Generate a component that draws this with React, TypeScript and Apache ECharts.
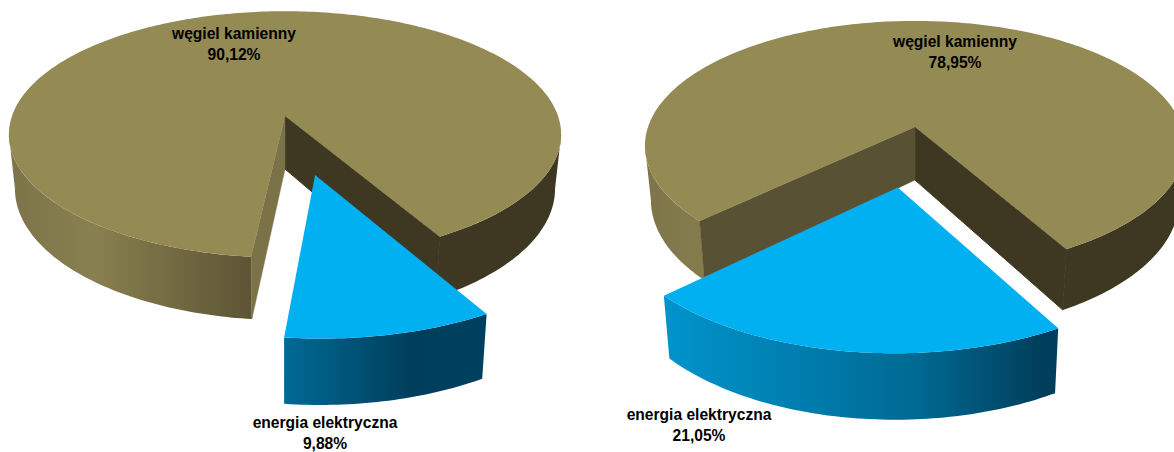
import React, { useEffect, useRef } from "react";
import * as echarts from "echarts";

const categories = ["węgiel kamienny", "energia elektryczna"];
const leftShares = [90.12, 9.88];
const rightShares = [78.95, 21.05];

const TOP = ["#948A54", "#00B0F0"];
const WALL_NEAR = "#3E3823";
const SIDE_COAL: [number, string][] = [[-276, "#7d734a"], [-190, "#88804f"], [-30, "#5c5334"], [125, "#3e3823"], [280, "#3e3823"]];
const SIDE_POWER: [number, string][] = [[-276, "#0098d2"], [-250, "#0094cc"], [0, "#006a94"], [125, "#003f5c"], [280, "#004060"]];

const START = -60.5;
const PERSPECTIVE = 0.15;
const DEPTH = [53, 52];
const EXPLODE = 0.466;
const EXPLODE_SHIFT = 0.008;
const POWER_RADIUS = 0.99;
const POWER_WIDEN = 1.005;

const layouts = [
  {
    shares: leftShares, cx: 285, cy: 116, rx: 273, ry: 120.5, wallFar: "#7b7248",
    labels: [{ x: 234, y: 43.5 }, { x: 325, y: 432.5 }],
  },
  {
    shares: rightShares, cx: 915, cy: 127, rx: 267, ry: 122, wallFar: "#595133",
    labels: [{ x: 955, y: 52 }, { x: 699, y: 424.5 }],
  },
];

function formatShare(v: number) {
  return v.toFixed(2).replace(".", ",") + "%";
}

function makeRender(L: (typeof layouts)[number]) {
  const gradient = (stops: [number, string][]) => {
    const a = stops[0][0];
    const b = stops[stops.length - 1][0];
    return new echarts.graphic.LinearGradient(
      L.cx + a, 0, L.cx + b, 0,
      stops.map(([p, color]) => ({ offset: (p - a) / (b - a), color })),
      true
    );
  };
  return (params: any, api: any) => {
    const idx = params.dataIndex;
    const value = api.value(0);
    const depth = DEPTH[idx];
    const project = (X: number, Y: number, Z = 0): number[] => {
      const s = 1 / (1 + PERSPECTIVE * Y);
      const shrink = 1 - 0.022 * (Z / depth);
      return [L.cx + L.rx * X * s * shrink, L.cy - L.ry * Y * s + Z * s];
    };
    const powerSpan = (L.shares[1] / 100) * 360;
    const coalSpan = (L.shares[0] / 100) * 360;
    const isPower = idx === 1;
    const from = isPower ? START - powerSpan : START - powerSpan - coalSpan;
    const to = isPower ? START : START - powerSpan;
    const mid = START - powerSpan / 2;
    const ox = isPower ? EXPLODE * Math.cos((mid * Math.PI) / 180) + EXPLODE_SHIFT : 0;
    const oy = isPower ? EXPLODE * Math.sin((mid * Math.PI) / 180) : 0;
    const r = isPower ? POWER_RADIUS : 1;
    const wx = isPower ? POWER_WIDEN : 1;
    const rimAt = (deg: number): number[] => {
      const a = (deg * Math.PI) / 180;
      return [ox + wx * r * Math.cos(a), oy + r * Math.sin(a)];
    };
    const arc = (a: number, b: number): number[][] => {
      const steps = Math.max(2, Math.ceil(Math.abs(b - a)));
      const out: number[][] = [];
      for (let i = 0; i <= steps; i++) out.push(rimAt(a + ((b - a) * i) / steps));
      return out;
    };
    const rim = arc(from, to);
    const topRim = rim.map((p) => project(p[0], p[1]));
    const apex = project(ox, oy);
    const apexLow = project(ox, oy, depth);
    const children: any[] = [];

    // Only the near part of the rim shows a side; its ends stop at the silhouette.
    const sil = (Math.asin(PERSPECTIVE) * 180) / Math.PI;
    const nearStart = -180 + sil;
    const nearEnd = -sil;
    const fill = gradient(isPower ? SIDE_POWER : SIDE_COAL);
    for (const k of [-360, 0]) {
      const a = Math.max(from, nearStart + k);
      const b = Math.min(to, nearEnd + k);
      if (b <= a) continue;
      const part = arc(a, b);
      children.push({
        type: "polygon",
        shape: {
          points: part
            .map((p) => project(p[0], p[1]))
            .concat(part.map((p) => project(p[0], p[1], depth)).reverse()),
        },
        style: { fill },
        silent: true,
      });
    }
    if (!isPower) {
      const first = rim[0];
      const last = rim[rim.length - 1];
      children.push({
        type: "polygon",
        shape: { points: [apex, project(first[0], first[1]), project(first[0], first[1], depth), apexLow] },
        style: { fill: WALL_NEAR, stroke: WALL_NEAR, lineWidth: 1 },
        silent: true,
      });
      children.push({
        type: "polygon",
        shape: { points: [apex, project(last[0], last[1]), project(last[0], last[1], depth), apexLow] },
        style: { fill: L.wallFar, stroke: L.wallFar, lineWidth: 0.5 },
        silent: true,
      });
    }
    children.push({
      type: "polygon",
      shape: { points: [apex].concat(topRim) },
      style: { fill: TOP[idx] },
      silent: true,
    });
    children.push({
      type: "text",
      x: L.labels[idx].x,
      y: L.labels[idx].y,
      silent: true,
      style: {
        text: categories[idx] + "\n" + formatShare(value),
        fill: "#000",
        font: 'bold 15.6px "Liberation Sans", Arial, sans-serif',
        lineHeight: 21,
        align: "center",
        verticalAlign: "middle",
      },
    });
    return { type: "group", children };
  };
}

export default function App() {
  const ref = useRef<HTMLDivElement>(null);
  useEffect(() => {
    document.body.style.margin = "0";
    const chart = echarts.init(ref.current!, undefined, { renderer: "svg" });
    chart.setOption({
      animation: false,
      backgroundColor: "#ffffff",
      series: layouts.map((L) => ({
        type: "custom",
        coordinateSystem: "none",
        silent: true,
        clip: false,
        renderItem: makeRender(L),
        data: L.shares.map((v) => [v]),
      })),
    });
    return () => chart.dispose();
  }, []);
  return <div ref={ref} style={{ width: 1174, height: 452 }} />;
}
